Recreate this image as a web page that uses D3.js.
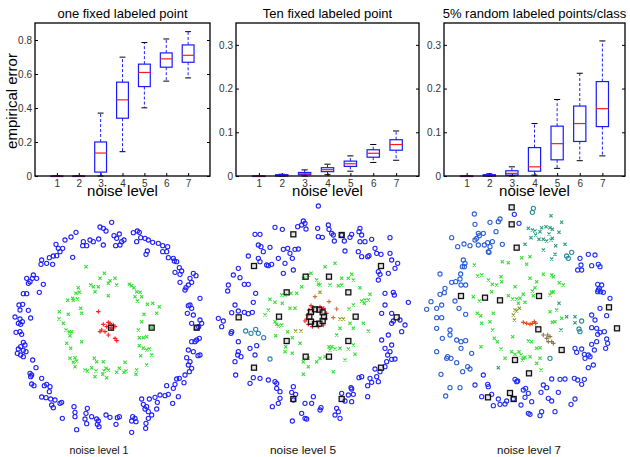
<!DOCTYPE html>
<html>
<head>
<meta charset="utf-8">
<script src="https://cdn.jsdelivr.net/npm/d3@7"></script>
<style>
  body { margin: 0; background: #fff; }
  svg { display: block; font-family: "Liberation Sans", Arial, sans-serif; }
</style>
</head>
<body>
<script>
// ---- box plot data: empirical error per noise level ----
var noiseLevels = [1, 2, 3, 4, 5, 6, 7];

// one fixed labeled point
var oneLow  = [0, 0, 0, 0.143, 0.401, 0.558, 0.577];
var oneQ1   = [0, 0, 0.023, 0.34, 0.526, 0.64, 0.669];
var oneMed  = [0, 0, 0.135, 0.448, 0.609, 0.689, 0.71];
var oneQ3   = [0, 0, 0.2, 0.552, 0.658, 0.724, 0.771];
var oneHigh = [0, 0.002, 0.37, 0.699, 0.785, 0.806, 0.849];

// ten fixed labeled points
var tenLow  = [0, 0, 0, 0.003, 0.011, 0.031, 0.036];
var tenQ1   = [0, 0, 0.003, 0.01, 0.022, 0.043, 0.059];
var tenMed  = [0, 0.001, 0.005, 0.0145, 0.028, 0.052, 0.072];
var tenQ3   = [0, 0.003, 0.008, 0.019, 0.034, 0.06, 0.083];
var tenHigh = [0, 0.004, 0.014, 0.027, 0.046, 0.072, 0.103];

// 5% random labeled points per class
var rndLow  = [0, 0, 0, 0.002, 0.0175, 0.035, 0.046];
var rndQ1   = [0, 0, 0.002, 0.011, 0.037, 0.079, 0.113];
var rndMed  = [0, 0.001, 0.006, 0.021, 0.074, 0.12, 0.154];
var rndQ3   = [0, 0.003, 0.012, 0.065, 0.114, 0.16, 0.216];
var rndHigh = [0, 0.005, 0.021, 0.12, 0.175, 0.235, 0.309];

var oneTicks = [0, 0.2, 0.4, 0.6, 0.8];
var tenTicks = [0, 0.1, 0.2, 0.3];

// ---- scatter data (feature coordinates, arbitrary units) ----
// noise level 1
var outer1 = [[335,82],[300,96],[310,100],[318,108],[400,113],[412,108],[418,112],[228,112],[213,126],[195,135],[342,122],[358,117],[350,130],[365,140],[372,135],[347,152],[360,150],[270,135],[280,140],[296,132],[310,150],[250,140],[248,152],[260,152],[410,140],[422,128],[435,130],[445,135],[458,142],[475,145],[488,152],[503,155],[488,170],[168,148],[175,160],[188,160],[180,170],[170,182],[160,183],[148,188],[125,195],[123,208],[140,205],[158,208],[218,187],[438,178],[442,168],[500,170],[505,188],[520,190],[523,198],[530,200],[538,218],[545,228],[540,238],[525,232],[580,235],[588,242],[570,250],[575,262],[565,270],[558,278],[555,285],[540,262],[80,250],[90,260],[85,265],[100,240],[97,250],[110,250],[130,268],[118,292],[70,296],[80,296],[68,328],[57,330],[60,345],[85,346],[92,369],[45,366],[60,372],[67,380],[55,385],[62,388],[48,412],[60,410],[65,418],[70,442],[75,450],[62,455],[55,462],[70,466],[78,470],[52,475],[62,480],[70,485],[98,495],[108,518],[90,535],[95,540],[92,545],[125,550],[95,567],[102,572],[133,572],[140,568],[150,575],[148,590],[600,310],[570,330],[575,340],[565,332],[562,355],[580,360],[600,375],[575,385],[605,385],[596,395],[590,398],[598,430],[590,435],[585,440],[575,440],[565,465],[580,470],[600,480],[594,482],[560,488],[570,500],[565,510],[575,520],[568,530],[555,540],[538,550],[530,552],[552,563],[525,568],[500,572],[520,580],[535,605],[518,625],[505,598],[495,602],[480,600],[465,607],[472,622],[448,612],[425,612],[430,628],[440,635],[445,650],[435,642],[470,642],[455,660],[445,670],[125,606],[138,608],[152,612],[165,615],[155,630],[160,638],[180,625],[185,622],[222,635],[225,652],[262,640],[258,655],[225,665],[187,670],[255,672],[260,686],[275,665],[290,672],[295,678],[292,688],[297,695],[318,660],[330,667],[352,668],[358,665],[348,688],[398,665],[405,670],[395,678],[408,680],[438,685],[437,700],[395,712],[230,704]];
var middle1 = [[258,215],[313,235],[300,250],[330,257],[325,265],[345,250],[350,270],[272,270],[280,275],[295,275],[285,290],[235,278],[238,292],[228,295],[218,310],[203,316],[220,316],[232,312],[325,302],[388,268],[395,272],[402,278],[410,290],[420,292],[405,305],[425,305],[412,318],[442,328],[458,325],[478,335],[470,355],[432,358],[425,380],[178,350],[205,358],[242,340],[245,355],[177,372],[190,385],[198,405],[208,410],[215,410],[210,422],[245,440],[200,445],[212,460],[415,405],[418,428],[430,428],[440,425],[455,398],[418,452],[430,460],[440,465],[448,462],[422,482],[455,480],[440,510],[210,490],[225,488],[230,498],[220,502],[225,515],[255,525],[262,528],[275,518],[283,490],[290,500],[288,528],[310,500],[318,520],[312,528],[325,525],[308,538],[320,548],[285,545],[350,532],[358,520],[378,528],[375,502],[410,525],[408,538],[372,532]];
var inner1 = [[295,350],[310,388],[325,382],[330,385],[320,395],[305,405],[300,410],[315,410],[340,390],[345,395],[325,420],[345,430],[350,437],[335,400],[333,398]];
var labeled1 = [[333,398],[455,398],[590,398]];

// noise level 5
var outer5 = [[340,33],[295,78],[300,85],[290,90],[303,102],[210,97],[232,103],[278,95],[338,100],[370,90],[372,103],[380,115],[385,120],[340,125],[352,127],[388,138],[410,120],[418,138],[440,118],[435,127],[465,100],[462,110],[470,120],[480,140],[465,140],[500,133],[555,128],[150,118],[165,118],[160,150],[168,155],[175,170],[195,157],[130,183],[160,190],[165,200],[185,210],[190,212],[200,208],[220,190],[235,163],[248,160],[255,175],[270,163],[280,162],[262,190],[265,225],[240,205],[235,235],[100,220],[85,240],[105,248],[118,268],[130,268],[70,270],[68,288],[152,295],[420,168],[460,170],[470,185],[492,182],[488,185],[510,160],[515,175],[528,178],[555,175],[560,195],[570,220],[578,205],[520,230],[525,238],[550,235],[520,255],[540,295],[565,292],[568,300],[610,322],[540,330],[530,355],[560,355],[565,378],[560,385],[585,375],[600,390],[590,410],[530,435],[550,420],[540,460],[560,450],[555,470],[548,480],[560,493],[570,492],[545,500],[540,515],[525,530],[510,522],[515,545],[520,560],[495,550],[500,562],[488,572],[462,548],[470,545],[438,578],[440,582],[410,595],[430,600],[445,598],[420,618],[488,605],[440,620],[395,640],[400,650],[390,660],[405,670],[348,638],[345,645],[320,625],[325,605],[300,625],[290,655],[300,670],[305,672],[265,575],[260,592],[272,598],[265,615],[215,565],[215,580],[225,590],[225,610],[220,625],[202,635],[145,548],[135,565],[165,550],[190,555],[210,560],[92,540],[90,330],[80,353],[100,348],[118,352],[130,356],[142,352],[145,322],[40,370],[55,378],[50,395],[80,410],[78,415],[100,440],[100,470],[98,480],[108,485],[90,500],[135,460],[155,452],[150,480],[262,678]];
var teal5 = [[122,408],[138,415],[152,403],[160,415],[176,428],[195,492]];
var middle5 = [[360,215],[390,205],[318,235],[310,240],[295,250],[335,255],[340,268],[345,270],[375,270],[410,250],[440,238],[430,250],[445,255],[465,278],[410,270],[400,272],[290,275],[275,295],[258,295],[240,300],[230,300],[195,313],[210,322],[232,325],[255,340],[270,340],[190,345],[180,360],[210,380],[215,388],[220,393],[230,390],[212,422],[248,410],[262,428],[285,445],[240,470],[242,455],[262,475],[295,500],[310,490],[310,515],[345,490],[335,500],[360,485],[372,455],[380,455],[375,465],[395,420],[390,462],[405,460],[420,495],[430,462],[445,450],[450,478],[385,530],[295,538],[470,318],[480,315],[478,325],[490,315],[495,298],[445,330],[432,342],[475,385],[490,408],[445,400],[435,385],[405,400]];
var olive5 = [[345,292],[405,372],[415,372],[288,408],[272,408]];
var orange5 = [[330,305],[372,320],[395,342],[385,368]];
var inner5 = [[318,332],[312,345],[305,372],[300,378],[310,388],[322,395],[340,395],[355,390],[362,372],[364,355],[356,340],[345,336],[325,338],[308,360]];
var labeled5 = [[265,118],[410,120],[147,213],[528,213],[101,367],[575,367],[147,518],[528,518],[265,612],[410,612],[302,245],[372,245],[245,292],[430,292],[222,365],[452,365],[245,438],[430,438],[302,485],[372,485],[357,365],[353,378],[343,386],[330,387],[318,380],[313,365],[318,351],[330,343],[343,344],[353,352]];

// noise level 7
var steel7 = [[178,57],[180,88],[205,115],[190,115],[193,122],[185,130],[180,135],[110,128],[128,155],[147,147],[165,152],[190,150],[208,150],[218,143],[232,140],[225,155],[262,148],[220,170],[222,172],[145,195],[150,205],[142,215],[148,215],[137,237],[135,252],[75,237],[110,262],[122,260],[138,270],[152,270],[90,280],[88,293],[75,298],[48,320],[35,343],[65,340],[80,330],[120,318],[132,340],[152,358],[65,368],[80,368],[65,400],[105,405],[105,420],[82,430],[125,435],[138,440],[152,437],[138,460],[170,475],[98,485],[95,490],[108,490],[65,470],[125,503],[143,530],[158,515],[165,522],[78,538],[105,578],[135,578],[92,603],[243,110],[255,72],[250,80],[225,82]];
var blue7 = [[298,58],[312,85],[180,570],[205,540],[218,568],[220,575],[200,605],[230,598],[235,632],[250,612],[255,628],[275,618],[270,627],[295,612],[300,553],[305,560],[308,558],[325,585],[332,580],[340,595],[330,607],[318,630],[350,620],[340,655],[345,658],[375,662],[380,650],[400,610],[410,618],[420,650],[430,592],[468,628],[480,612],[385,570],[378,592],[395,578],[410,552],[450,552],[435,553],[478,550],[488,555],[500,568],[508,553],[520,518],[535,510],[508,478],[500,462],[480,460],[485,472],[510,490],[520,480],[525,485],[538,465],[530,448],[545,440],[572,460],[578,445],[575,432],[568,410],[555,412],[548,418],[545,400],[530,398],[540,375],[530,360],[555,340],[575,362],[585,310],[548,290],[553,280],[560,270],[548,268],[557,290],[565,292],[550,285],[530,212],[550,208],[555,215],[520,178],[540,180],[498,210],[500,225],[488,225],[495,190]];
var tealCirc7 = [[355,40],[352,52],[455,183],[460,190],[470,172],[500,378],[492,402],[495,410],[405,490]];
var tealX7 = [[408,62],[440,82],[340,100],[352,105],[360,108],[380,98],[393,95],[405,98],[412,103],[432,112],[375,110],[402,117],[348,128],[362,120],[372,133],[385,133],[395,138],[412,130],[408,135],[450,148],[422,152],[330,148],[385,165],[420,178],[410,192],[455,365],[480,365],[480,383],[438,405],[432,325],[250,518]];
var green7 = [[320,188],[345,185],[262,200],[280,203],[335,208],[178,210],[188,243],[200,240],[258,245],[385,238],[415,245],[410,240],[220,255],[260,260],[232,268],[245,270],[345,250],[365,260],[300,275],[433,263],[445,270],[360,278],[175,305],[193,318],[230,290],[325,298],[352,288],[280,302],[293,312],[305,312],[315,310],[330,322],[310,325],[355,302],[410,292],[405,300],[415,290],[425,345],[405,350],[420,380],[412,382],[440,370],[187,355],[197,362],[235,355],[200,385],[225,380],[233,405],[238,430],[247,440],[293,425],[198,455],[258,462],[290,470],[300,478],[312,470],[318,480],[325,490],[322,495],[330,487],[345,485],[340,438],[350,440],[365,460],[375,458],[375,490],[365,505],[378,525],[270,490]];
var olive7 = [[300,345],[305,348],[295,360],[298,375],[313,340]];
var orange7 = [[325,382],[335,385],[345,388],[352,385],[358,380],[362,385]];
var brown7 = [[385,420],[398,420],[405,425],[395,430],[410,440],[400,440],[415,445]];
var labeled7 = [[290,37],[290,88],[305,158],[138,303],[210,308],[255,316],[372,303],[582,337],[606,400],[370,403],[440,465],[300,495],[342,535],[285,594],[296,612],[219,607]];

// ---- drawing ----
var svgWidth = 630;
var svgHeight = 457;

var svg = d3.select("body")
  .append("svg")
  .attr("width", svgWidth)
  .attr("height", svgHeight);

var boxTop = 23, boxBottom = 176;

function boxPanel(p) {
  var x = d3.scaleLinear().domain([0, 8]).range([p.left, p.right]);
  var y = d3.scaleLinear().domain([0, p.yMax]).range([boxBottom, boxTop]);
  var g = svg.append("g");
  var half = (x(1) - x(0)) * 0.27;

  var fmt = function(d) { return d === 0 ? "0" : d3.format(".1f")(d); };

  var left = g.append("g")
    .attr("transform", `translate(${p.left},0)`)
    .call(d3.axisLeft(y).tickValues(p.ticks).tickSize(-3).tickPadding(3).tickFormat(fmt));
  left.select(".domain").remove();
  left.selectAll("text").attr("font-size", 10).attr("fill", "#333");

  var right = g.append("g")
    .attr("transform", `translate(${p.right},0)`)
    .call(d3.axisRight(y).tickValues(p.ticks).tickSize(-3).tickFormat(""));
  right.select(".domain").remove();

  // inward ticks on the bottom edge, labels a little lower
  var bottom = g.append("g")
    .attr("transform", `translate(0,${boxBottom})`)
    .call(d3.axisBottom(x).tickValues(noiseLevels).tickSize(-3).tickPadding(4).tickFormat(d3.format("d")));
  bottom.select(".domain").remove();
  bottom.selectAll("text").attr("font-size", 10).attr("fill", "#333");

  noiseLevels.forEach(function(n, i) {
    var cx = x(n);
    // whiskers
    g.append("line").attr("x1", cx).attr("x2", cx)
      .attr("y1", y(p.q3[i])).attr("y2", y(p.high[i]))
      .attr("stroke", "#2222ff").attr("stroke-dasharray", "3,2");
    g.append("line").attr("x1", cx).attr("x2", cx)
      .attr("y1", y(p.q1[i])).attr("y2", y(p.low[i]))
      .attr("stroke", "#2222ff").attr("stroke-dasharray", "3,2");
    [p.high[i], p.low[i]].forEach(function(v) {
      g.append("line").attr("x1", cx - half / 2).attr("x2", cx + half / 2)
        .attr("y1", y(v)).attr("y2", y(v)).attr("stroke", "#000");
    });
    g.append("rect")
      .attr("x", cx - half).attr("width", half * 2)
      .attr("y", y(p.q3[i])).attr("height", Math.max(0.5, y(p.q1[i]) - y(p.q3[i])))
      .attr("fill", "none").attr("stroke", "#1a1aff").attr("stroke-width", 1.2);
    g.append("line").attr("x1", cx - half).attr("x2", cx + half)
      .attr("y1", y(p.med[i])).attr("y2", y(p.med[i]))
      .attr("stroke", "#ff1a1a").attr("stroke-width", 1.2);
  });

  g.append("rect")
    .attr("x", p.left).attr("y", boxTop)
    .attr("width", p.right - p.left).attr("height", boxBottom - boxTop)
    .attr("fill", "none").attr("stroke", "#000").attr("stroke-width", 1.3);

  g.append("text")
    .attr("x", (p.left + p.right) / 2).attr("y", 18)
    .attr("text-anchor", "middle").attr("font-size", 13)
    .text(p.title);

  g.append("text")
    .attr("x", (p.left + p.right) / 2).attr("y", 196)
    .attr("text-anchor", "middle").attr("font-size", 15)
    .text("noise level");
}

boxPanel({ left: 35, right: 210, yMax: 0.9, ticks: oneTicks, title: "one fixed labeled point",
  low: oneLow, q1: oneQ1, med: oneMed, q3: oneQ3, high: oneHigh });
boxPanel({ left: 236, right: 419, yMax: 0.35, ticks: tenTicks, title: "Ten fixed labeled point",
  low: tenLow, q1: tenQ1, med: tenMed, q3: tenQ3, high: tenHigh });
boxPanel({ left: 444, right: 625, yMax: 0.35, ticks: tenTicks, title: "5% random labeled points/class",
  low: rndLow, q1: rndQ1, med: rndMed, q3: rndQ3, high: rndHigh });

svg.append("text")
  .attr("transform", "translate(17,101) rotate(-90)")
  .attr("text-anchor", "middle").attr("font-size", 15)
  .text("empirical error");

// scatter panels
function scatterPanel(left, groups, labeled, caption, captionX, captionLen) {
  var x = d3.scaleLinear().domain([0, 645]).range([left, left + 215]);
  var y = d3.scaleLinear().domain([0, 786]).range([195, 457]);
  var g = svg.append("g");

  groups.forEach(function(grp) {
    var sel = g.selectAll(null).data(grp.pts).enter();
    if (grp.shape === "o") {
      sel.append("circle")
        .attr("cx", d => x(d[0])).attr("cy", d => y(d[1])).attr("r", 2.1)
        .attr("fill", "none").attr("stroke", grp.color).attr("stroke-width", 1.1);
    } else if (grp.shape === "x") {
      sel.append("path")
        .attr("d", d => `M${x(d[0]) - 1.6},${y(d[1]) - 1.6}L${x(d[0]) + 1.6},${y(d[1]) + 1.6}M${x(d[0]) - 1.6},${y(d[1]) + 1.6}L${x(d[0]) + 1.6},${y(d[1]) - 1.6}`)
        .attr("stroke", grp.color).attr("stroke-width", 1.1);
    } else {
      sel.append("path")
        .attr("d", d => `M${x(d[0]) - 2.2},${y(d[1])}H${x(d[0]) + 2.2}M${x(d[0])},${y(d[1]) - 2.2}V${y(d[1]) + 2.2}`)
        .attr("stroke", grp.color).attr("stroke-width", 1.1);
    }
  });

  // labeled points: small dark squares around the point
  g.selectAll(null).data(labeled).enter().append("rect")
    .attr("x", d => x(d[0]) - 2.5).attr("y", d => y(d[1]) - 2.5)
    .attr("width", 5).attr("height", 5)
    .attr("fill", "rgba(120,120,120,0.2)").attr("stroke", "#111").attr("stroke-width", 1.3);

  g.append("text")
    .attr("x", captionX).attr("y", 454)
    .attr("text-anchor", "middle").attr("font-size", 11.5)
    .attr("textLength", captionLen).attr("lengthAdjust", "spacingAndGlyphs")
    .attr("fill", "#111")
    .text(caption);
}

scatterPanel(0, [
  { pts: outer1, shape: "o", color: "#1f1fff" },
  { pts: middle1, shape: "x", color: "#33dd33" },
  { pts: inner1, shape: "+", color: "#ff2020" }
], labeled1, "noise level 1", 99, 59);

scatterPanel(205, [
  { pts: outer5, shape: "o", color: "#1f1fff" },
  { pts: teal5, shape: "o", color: "#2a80b0" },
  { pts: middle5, shape: "x", color: "#33dd33" },
  { pts: olive5, shape: "x", color: "#8a9a20" },
  { pts: orange5, shape: "+", color: "#d07040" },
  { pts: inner5, shape: "+", color: "#ff2020" }
], labeled5, "noise level 5", 303, 66);

scatterPanel(415, [
  { pts: steel7, shape: "o", color: "#2a5fd8" },
  { pts: blue7, shape: "o", color: "#1f2ff5" },
  { pts: tealCirc7, shape: "o", color: "#2a8a9a" },
  { pts: tealX7, shape: "x", color: "#2a9a78" },
  { pts: green7, shape: "x", color: "#33dd33" },
  { pts: olive7, shape: "x", color: "#8a9a30" },
  { pts: orange7, shape: "+", color: "#e0501a" },
  { pts: brown7, shape: "+", color: "#8a7a50" }
], labeled7, "noise level 7", 529, 64);
</script>
</body>
</html>
